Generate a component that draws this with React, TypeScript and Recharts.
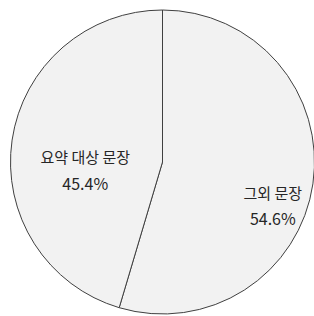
import { PieChart, Pie, Cell } from "recharts";

const categories = ["그외 문장", "요약 대상 문장"];
const shares = [54.6, 45.4];
const pctLabels = ["54.6%", "45.4%"];

const data = categories.map((name, i) => ({ name, value: shares[i], pct: pctLabels[i] }));

// label placement per slice (radius factor + nudge), roughly Excel's best-fit
const labelPos = [
  { r: 0.7, dx: 5, dy: 28 },
  { r: 0.52, dx: 1, dy: 19 },
];

const RAD = Math.PI / 180;
const FONT = "'Noto Sans CJK KR', 'Noto Sans', sans-serif";

function renderLabel(props: any) {
  const { cx, cy, midAngle, outerRadius, index } = props;
  const p = labelPos[index];
  const x = cx + outerRadius * p.r * Math.cos(-midAngle * RAD) + p.dx;
  const y = cy + outerRadius * p.r * Math.sin(-midAngle * RAD) + p.dy;
  return (
    <g>
      <text x={x} y={y - 13} textAnchor="middle" dominantBaseline="central" fill="#262626" fontSize={15} fontFamily={FONT}>
        {data[index].name}
      </text>
      <text x={x} y={y + 13} textAnchor="middle" dominantBaseline="central" fill="#262626" fontSize={16} fontFamily={FONT}>
        {data[index].pct}
      </text>
    </g>
  );
}

export default function App() {
  return (
    <div style={{ position: "absolute", left: 0, top: 0, width: 314, height: 316, background: "#fff" }}>
      <PieChart width={314} height={316} margin={{ top: 0, right: 0, bottom: 0, left: 0 }}>
        <Pie
          data={data}
          dataKey="value"
          nameKey="name"
          cx={162.5}
          cy={162}
          outerRadius={152}
          startAngle={90}
          endAngle={-270}
          stroke="#404040"
          strokeWidth={1}
          label={renderLabel}
          labelLine={false}
          isAnimationActive={false}
        >
          {data.map((d) => (
            <Cell key={d.name} fill="#f2f2f2" />
          ))}
        </Pie>
      </PieChart>
    </div>
  );
}
